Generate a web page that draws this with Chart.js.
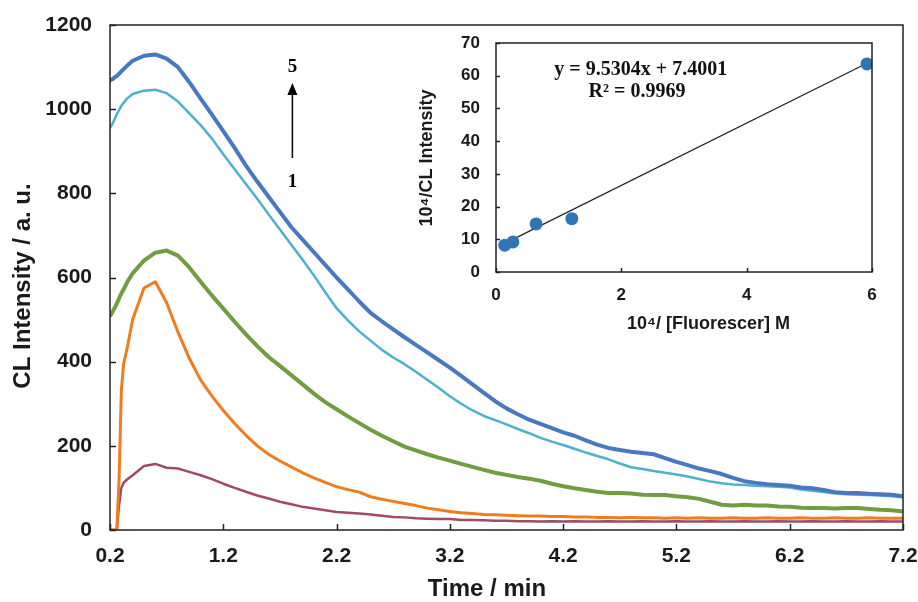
<!DOCTYPE html>
<html>
<head>
<meta charset="utf-8">
<script src="https://cdn.jsdelivr.net/npm/chart.js@4.4.1/dist/chart.umd.min.js"></script>
<style>
  html, body { margin: 0; padding: 0; background: #fff; }
  #wrap { position: relative; width: 918px; height: 602px; }
  #wrap canvas { position: absolute; left: 0; top: 0; }
</style>
</head>
<body>
<div id="wrap">
  <canvas id="main" width="918" height="602"></canvas>
  <canvas id="inset" width="918" height="602"></canvas>
</div>
<script>
// time axis (min)
const time = [0.2, 0.23, 0.26, 0.28, 0.3, 0.32, 0.35, 0.4,
  0.5, 0.6, 0.7, 0.8, 0.9, 1.0, 1.1, 1.2, 1.3, 1.4,
  1.5, 1.6, 1.7, 1.8, 1.9, 2.0, 2.1, 2.2, 2.3, 2.4,
  2.5, 2.6, 2.7, 2.8, 2.9, 3.0, 3.1, 3.2, 3.3, 3.4,
  3.5, 3.6, 3.7, 3.8, 3.9, 4.0, 4.1, 4.2, 4.3, 4.4,
  4.5, 4.6, 4.7, 4.8, 4.9, 5.0, 5.1, 5.2, 5.3, 5.4,
  5.5, 5.6, 5.7, 5.8, 5.9, 6.0, 6.1, 6.2, 6.3, 6.4,
  6.5, 6.6, 6.7, 6.8, 6.9, 7.0, 7.1, 7.2];

const curve5 = [1068, 1073, 1079, 1084, 1090, 1095, 1103, 1115,
  1127, 1130, 1120, 1100, 1064, 1025, 987, 948, 908, 866,
  828, 792, 756, 720, 690, 660, 630, 600, 572, 543,
  516, 496, 477, 458, 440, 422, 404, 386, 366, 346,
  326, 306, 289, 275, 262, 252, 242, 232, 224, 213,
  203, 195, 190, 186, 183, 180, 171, 162, 154, 146,
  140, 133, 124, 116, 112, 109, 107, 105, 101, 99,
  95, 90, 88, 88, 86, 85, 84, 80];

const curve4 = [955, 970, 988, 998, 1008, 1015, 1025, 1036,
  1044, 1046, 1038, 1018, 990, 962, 930, 893, 857, 822,
  787, 750, 714, 678, 642, 605, 565, 527, 498, 472,
  450, 428, 410, 394, 376, 357, 338, 318, 300, 284,
  271, 261, 251, 240, 230, 219, 210, 202, 193, 184,
  176, 168, 158, 149, 145, 140, 136, 132, 127, 121,
  115, 111, 108, 107, 105, 104, 103, 101, 96, 93,
  90, 87, 85, 84, 83, 82, 80, 78];

const curve3 = [508, 522, 538, 550, 562, 572, 588, 610,
  640, 659, 664, 652, 624, 590, 557, 526, 495, 465,
  437, 411, 390, 368, 346, 324, 304, 287, 270, 254,
  238, 224, 211, 198, 189, 180, 172, 165, 157, 150,
  143, 136, 131, 126, 122, 117, 110, 104, 99, 95,
  91, 88, 88, 87, 84, 83, 83, 80, 78, 74,
  67, 60, 58, 60, 58, 58, 56, 55, 53, 52,
  52, 51, 52, 52, 50, 48, 47, 44];

const curve2 = [0, 0, 0, 120, 330, 395, 430, 500,
  575, 590, 540, 470, 408, 356, 318, 284, 253, 225,
  200, 180, 164, 150, 136, 124, 113, 103, 96, 90,
  79, 73, 68, 63, 58, 52, 48, 44, 41, 39,
  37, 36, 35, 34, 33, 33, 32, 32, 31, 31,
  30, 30, 29, 30, 29, 29, 28, 29, 28, 29,
  28, 28, 29, 28, 28, 29, 28, 28, 29, 28,
  28, 29, 28, 28, 29, 28, 28, 28];

const curve1 = [0, 0, 0, 60, 100, 112, 120, 130,
  152, 157, 148, 146, 138, 130, 121, 110, 100, 91,
  82, 75, 67, 61, 55, 51, 47, 43, 41, 39,
  37, 34, 31, 30, 28, 27, 26, 26, 24, 24,
  23, 22, 22, 21, 21, 20, 21, 20, 21, 20,
  20, 21, 20, 20, 21, 20, 20, 21, 20, 20,
  21, 20, 20, 21, 20, 20, 21, 20, 20, 21,
  20, 20, 21, 20, 20, 21, 20, 20];

const timeTicks = [0.2, 1.2, 2.2, 3.2, 4.2, 5.2, 6.2, 7.2];

// inset: 10^4/[Fluorescer] vs 10^4/CL intensity
const insetX = [0.14, 0.27, 0.64, 1.21, 5.92];
const insetY = [8.2, 9.2, 14.7, 16.3, 63.6];
const slope = 9.5304;
const intercept = 7.4001;

// arrow annotation (data units of the main chart)
const arrowTime = 1.81;
const arrowFrom = 884;
const arrowTo = 1062;

Chart.defaults.font.family = "'Liberation Sans', Arial, sans-serif";
Chart.defaults.color = '#1a1a1a';

const series = [
  { data: curve5, color: '#4a78c0', width: 4 },
  { data: curve4, color: '#4fb0cc', width: 2.5 },
  { data: curve3, color: '#719c3f', width: 4 },
  { data: curve2, color: '#f07c1e', width: 3 },
  { data: curve1, color: '#a04a66', width: 2.5 }
];

function inwardTicks(chart, len) {
  const { ctx, chartArea: a, scales: { x, y } } = chart;
  ctx.save();
  ctx.strokeStyle = '#222';
  ctx.lineWidth = 1.5;
  ctx.strokeRect(a.left, a.top, a.right - a.left, a.bottom - a.top);
  ctx.beginPath();
  x.ticks.forEach(t => {
    const px = Math.round(x.getPixelForValue(t.value)) + 0.5;
    ctx.moveTo(px, a.bottom);
    ctx.lineTo(px, a.bottom - len);
  });
  y.ticks.forEach(t => {
    const py = Math.round(y.getPixelForValue(t.value)) + 0.5;
    ctx.moveTo(a.left, py);
    ctx.lineTo(a.left + len, py);
  });
  ctx.stroke();
  ctx.restore();
}

// keep the plot box where the reference has it, whatever the label overflow
function fixX(h) {
  return s => { s.height = h; s.paddingLeft = 0; s.paddingRight = 0; };
}
function fixY(w) {
  return s => { s.width = w; s.paddingTop = 0; s.paddingBottom = 0; };
}

const mainFrame = {
  id: 'mainFrame',
  afterDraw(chart) {
    const { ctx, scales: { x, y } } = chart;
    inwardTicks(chart, 6);
    ctx.save();
    ctx.fillStyle = '#1a1a1a';
    ctx.font = "bold 24px 'Liberation Sans', Arial, sans-serif";
    ctx.textAlign = 'center';
    ctx.textBaseline = 'middle';
    ctx.fillText('Time / min', 487, 589);
    ctx.translate(23, 286);
    ctx.rotate(-Math.PI / 2);
    ctx.fillText('CL Intensity / a. u.', 0, 0);
    ctx.restore();

    // arrow 1 -> 5
    const ax = x.getPixelForValue(arrowTime);
    const y0 = y.getPixelForValue(arrowFrom);
    const y1 = y.getPixelForValue(arrowTo);
    ctx.save();
    ctx.strokeStyle = '#000';
    ctx.fillStyle = '#000';
    ctx.lineWidth = 1.5;
    ctx.beginPath();
    ctx.moveTo(ax, y0);
    ctx.lineTo(ax, y1 + 8);
    ctx.stroke();
    ctx.beginPath();
    ctx.moveTo(ax, y1);
    ctx.lineTo(ax - 5, y1 + 12);
    ctx.lineTo(ax + 5, y1 + 12);
    ctx.closePath();
    ctx.fill();
    ctx.font = "bold 19px 'Liberation Serif', 'Times New Roman', serif";
    ctx.textAlign = 'center';
    ctx.textBaseline = 'middle';
    ctx.fillText('5', ax, y1 - 16);
    ctx.fillText('1', ax, y0 + 24);
    ctx.restore();
  }
};

new Chart(document.getElementById('main'), {
  type: 'line',
  data: {
    datasets: series.map(s => ({
      data: time.map((t, i) => ({ x: t, y: s.data[i] })),
      borderColor: s.color,
      borderWidth: s.width,
      pointRadius: 0,
      tension: 0,
      borderJoinStyle: 'round'
    }))
  },
  options: {
    responsive: false,
    animation: false,
    layout: { padding: { top: 25, right: 15, left: 0, bottom: 0 } },
    plugins: { legend: { display: false }, tooltip: { enabled: false } },
    scales: {
      x: {
        type: 'linear',
        min: 0.2,
        max: 7.2,
        grid: { display: false, drawTicks: false },
        border: { display: false },
        afterBuildTicks: s => { s.ticks = timeTicks.map(v => ({ value: v })); },
        afterFit: fixX(72),
        ticks: {
          font: { size: 21, weight: 'bold' },
          padding: 14,
          maxRotation: 0,
          autoSkip: false,
          callback: v => v.toFixed(1)
        }
      },
      y: {
        min: 0,
        max: 1200,
        grid: { display: false, drawTicks: false },
        border: { display: false },
        afterFit: fixY(110),
        ticks: { stepSize: 200, font: { size: 21, weight: 'bold' }, padding: 18, callback: v => String(v) }
      }
    }
  },
  plugins: [mainFrame]
});

const insetFrame = {
  id: 'insetFrame',
  afterDraw(chart) {
    const { ctx, scales: { x, y } } = chart;
    inwardTicks(chart, 4);
    ctx.save();
    ctx.fillStyle = '#1a1a1a';
    ctx.font = "bold 18px 'Liberation Sans', Arial, sans-serif";
    ctx.textAlign = 'left';
    ctx.textBaseline = 'middle';
    ctx.fillText('10\u2074/ [Fluorescer] M', 627, 324);
    ctx.textAlign = 'center';
    ctx.translate(427, 158);
    ctx.rotate(-Math.PI / 2);
    ctx.fillText('10\u2074/CL Intensity', 0, 0);
    ctx.restore();

    ctx.save();
    ctx.fillStyle = '#111';
    ctx.font = "bold 20px 'Liberation Serif', 'Times New Roman', serif";
    ctx.textAlign = 'center';
    ctx.textBaseline = 'middle';
    ctx.fillText('y = 9.5304x + 7.4001', x.getPixelForValue(2.31), y.getPixelForValue(61.7));
    ctx.fillText('R\u00b2 = 0.9969', x.getPixelForValue(2.25), y.getPixelForValue(55));
    ctx.restore();
  }
};

const xMin = Math.min(...insetX);
const xMax = Math.max(...insetX);

new Chart(document.getElementById('inset'), {
  type: 'scatter',
  data: {
    datasets: [
      {
        data: insetX.map((v, i) => ({ x: v, y: insetY[i] })),
        backgroundColor: '#2e75b6',
        borderWidth: 0,
        pointRadius: 6.5
      },
      {
        type: 'line',
        data: [xMin, xMax].map(v => ({ x: v, y: slope * v + intercept })),
        borderColor: '#222',
        borderWidth: 1.3,
        pointRadius: 0
      }
    ]
  },
  options: {
    responsive: false,
    animation: false,
    layout: { padding: { left: 400, top: 43, right: 46, bottom: 282 } },
    plugins: { legend: { display: false }, tooltip: { enabled: false } },
    scales: {
      x: {
        type: 'linear',
        min: 0,
        max: 6,
        grid: { display: false, drawTicks: false },
        border: { display: false },
        afterFit: fixX(48),
        ticks: { stepSize: 2, font: { size: 17, weight: 'bold' }, padding: 13, maxRotation: 0 }
      },
      y: {
        min: 0,
        max: 70,
        grid: { display: false, drawTicks: false },
        border: { display: false },
        afterFit: fixY(96),
        ticks: { stepSize: 10, font: { size: 17, weight: 'bold' }, padding: 16 }
      }
    }
  },
  plugins: [insetFrame]
});
</script>
</body>
</html>
